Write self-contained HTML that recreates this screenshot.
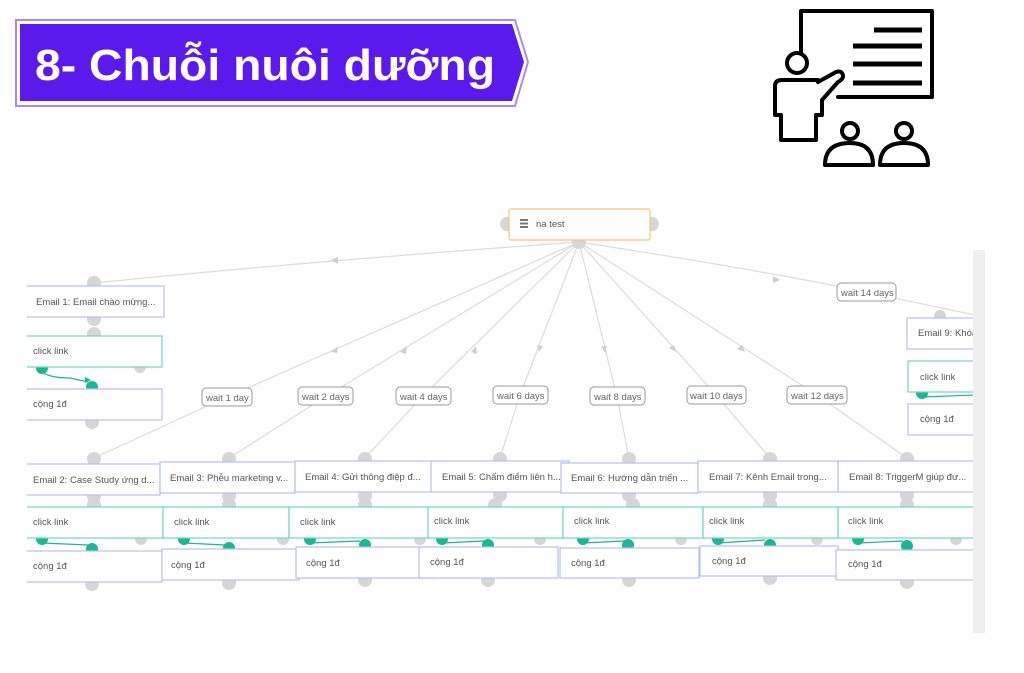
<!DOCTYPE html>
<html><head><meta charset="utf-8"><style>
body{margin:0;width:1024px;height:673px;background:#fff;overflow:hidden;font-family:"Liberation Sans","Noto Sans CJK SC",sans-serif}
svg{position:absolute;left:0;top:0}
</style></head><body>
<svg width="1024" height="673" viewBox="0 0 1024 673" font-family="Liberation Sans, Noto Sans CJK SC, sans-serif">
<!-- title banner -->
<polygon points="16,20 515,20 528,62 515,106 16,106" fill="none" stroke="#a88af5" stroke-width="2"/>
<polygon points="20,24 512,24 524,62 512,101 20,101" fill="#5b1aed"/>
<text x="35" y="80" fill="#fff" font-size="44" font-weight="bold" font-family="Liberation Sans, sans-serif" textLength="460" lengthAdjust="spacingAndGlyphs">8- Chuỗi nuôi dưỡng</text>
<!-- icon -->
<g fill="none" stroke="#000" stroke-width="4" stroke-linejoin="round" stroke-linecap="round">
<polyline points="801,52 801,11 932,11 932,97 838,97"/>
<circle cx="797" cy="63" r="10"/>
<path d="M818,82 L836,72 Q843,70 843,77 Q842,80 838,82 L822,100 L822,115 L816,115 L816,140 L781,140 L781,115 L775,115 L775,86 Q775,80 782,80 L818,80"/>
<circle cx="850" cy="131" r="8"/>
<path d="M825,165 Q825,143 850,143 Q873,143 873,165 Z"/>
<circle cx="904" cy="131" r="8"/>
<path d="M880,165 Q880,143 904,143 Q928,143 928,165 Z"/>
</g>
<g stroke="#000" stroke-width="5">
<line x1="874" y1="30" x2="922" y2="30"/><line x1="853" y1="46" x2="922" y2="46"/>
<line x1="853" y1="64" x2="922" y2="64"/><line x1="853" y1="83" x2="922" y2="83"/>
</g>
<!-- scrollbar -->
<rect x="973" y="250" width="12" height="383" fill="#efefef"/>
<defs><clipPath id="c"><rect x="27" y="190" width="946" height="420"/></clipPath></defs>
<g clip-path="url(#c)">
<!-- edges -->
<g fill="none" stroke="#dcdcdc" stroke-width="1.2">
<path d="M579,242 Q300,262 94,283"/>
<path d="M579,242 L227,397 L94,458"/>
<path d="M579,242 L325,397 L229,458"/>
<path d="M579,242 L423,396 L365,458"/>
<path d="M579,242 L520,395 L500,458"/>
<path d="M579,242 L617,397 L629,458"/>
<path d="M579,242 L716,395 L770,458"/>
<path d="M579,242 L817,395 L907,458"/>
<path d="M579,242 Q760,270 866,292 L975,315"/>
</g>
<g fill="#cfcfcf">
<polygon points="331,260 338,257 338,264"/><polygon points="331,352 338,346 337,353"/>
<polygon points="400,352 407,346 406,354"/><polygon points="471,352 476,346 477,354"/>
<polygon points="539,352 537,345 543,346"/><polygon points="605,353 601,346 607,346"/>
<polygon points="676,352 669,348 674,345"/><polygon points="745,352 737,349 742,345"/>
<polygon points="780,280 773,276 773,283"/>
</g>
<!-- wait labels -->
<g font-size="9.5" fill="#666">
<g fill="#fff" stroke="#999" stroke-width="1">
<rect x="202" y="388" width="50" height="18" rx="4"/><rect x="298" y="387" width="55" height="18" rx="4"/>
<rect x="396" y="387" width="55" height="18" rx="4"/><rect x="493" y="386" width="55" height="18" rx="4"/>
<rect x="590" y="387" width="55" height="18" rx="4"/><rect x="687" y="386" width="59" height="18" rx="4"/>
<rect x="787" y="386" width="60" height="18" rx="4"/><rect x="837" y="283" width="59" height="18" rx="4"/>
</g>
<text x="206" y="401">wait 1 day</text><text x="302" y="400">wait 2 days</text>
<text x="400" y="400">wait 4 days</text><text x="497" y="399">wait 6 days</text>
<text x="594" y="400">wait 8 days</text><text x="690" y="399">wait 10 days</text>
<text x="791" y="399">wait 12 days</text><text x="841" y="296">wait 14 days</text>
</g>
<!-- root -->
<circle cx="507" cy="224" r="7" fill="#d6d6d6"/><circle cx="652" cy="224" r="7" fill="#d6d6d6"/>
<circle cx="579" cy="242" r="7" fill="#d6d6d6"/>
<rect x="509" y="209" width="141" height="31" fill="#fff" stroke="#f7c56e" stroke-width="1.2" rx="2"/>
<g fill="#777"><rect x="520" y="219" width="8" height="2"/><rect x="520" y="222.5" width="8" height="2"/><rect x="520" y="226" width="8" height="2"/></g>
<text x="536" y="227" font-size="9.5" fill="#555">na test</text>

<g font-size="9.5" fill="#555">
<g fill="#d6d6d6">
<circle cx="94" cy="283" r="7"/><circle cx="94" cy="319" r="7"/><circle cx="94" cy="334" r="7"/><circle cx="140" cy="367" r="6"/><circle cx="92" cy="422" r="7"/>
<circle cx="940" cy="316" r="6"/>
<circle cx="94" cy="459" r="7"/><circle cx="229" cy="459" r="7"/><circle cx="365" cy="459" r="7"/><circle cx="500" cy="459" r="7"/><circle cx="629" cy="459" r="7"/><circle cx="770" cy="459" r="7"/><circle cx="907" cy="459" r="7"/>
<circle cx="94" cy="496" r="7"/><circle cx="94" cy="505" r="7"/><circle cx="229" cy="496" r="7"/><circle cx="229" cy="505" r="7"/><circle cx="365" cy="496" r="7"/><circle cx="365" cy="505" r="7"/><circle cx="500" cy="495" r="7"/><circle cx="495" cy="505" r="7"/><circle cx="629" cy="495" r="7"/><circle cx="633" cy="505" r="7"/><circle cx="770" cy="495" r="7"/><circle cx="770" cy="505" r="7"/><circle cx="907" cy="495" r="7"/><circle cx="907" cy="505" r="7"/>
<circle cx="141" cy="539" r="6"/><circle cx="283" cy="539" r="6"/><circle cx="420" cy="539" r="6"/><circle cx="540" cy="539" r="6"/><circle cx="681" cy="539" r="6"/><circle cx="817" cy="539" r="6"/><circle cx="956" cy="539" r="6"/>
<circle cx="92" cy="584" r="7"/><circle cx="229" cy="583" r="7"/><circle cx="365" cy="580" r="7"/><circle cx="488" cy="580" r="7"/><circle cx="629" cy="580" r="7"/><circle cx="770" cy="578" r="7"/><circle cx="907" cy="582" r="7"/>
</g>
<g fill="#17b894">
<circle cx="42" cy="368" r="6"/><circle cx="92" cy="387" r="6"/>
<circle cx="922" cy="393" r="6"/>
<circle cx="42" cy="539" r="6"/><circle cx="92" cy="549" r="6"/>
<circle cx="184" cy="539" r="6"/><circle cx="229" cy="548" r="6"/>
<circle cx="310" cy="539" r="6"/><circle cx="365" cy="545" r="6"/>
<circle cx="442" cy="539" r="6"/><circle cx="488" cy="545" r="6"/>
<circle cx="583" cy="539" r="6"/><circle cx="628" cy="545" r="6"/>
<circle cx="718" cy="539" r="6"/><circle cx="770" cy="545" r="6"/>
<circle cx="858" cy="539" r="6"/><circle cx="907" cy="546" r="6"/>
</g>
<g fill="none" stroke="#17b894" stroke-width="1.2">
<path d="M42,372 Q50,378 70,378 L88,382"/><path d="M922,397 L975,395"/>
<path d="M42,543 L88,545"/><path d="M184,543 L225,545"/><path d="M310,543 L360,541"/>
<path d="M442,543 L484,541"/><path d="M583,543 L624,541"/><path d="M718,543 L765,540"/><path d="M858,543 L903,541"/>
</g>
<g fill="#fff" stroke-width="1.2">
<g stroke="#b8bdf5">
<rect x="20" y="286" width="144" height="31"/>
<rect x="20" y="389" width="142" height="31"/>
<rect x="907" y="318" width="80" height="31"/><rect x="908" y="404" width="80" height="31"/>
<rect x="20" y="464" width="140" height="31"/><rect x="160" y="462" width="135" height="31"/>
<rect x="295" y="461" width="137" height="31"/><rect x="431" y="461" width="138" height="31"/>
<rect x="561" y="463" width="137" height="30"/><rect x="698" y="461" width="140" height="31"/>
<rect x="838" y="461" width="150" height="31"/>
<rect x="20" y="551" width="142" height="31"/><rect x="162" y="549" width="137" height="31"/>
<rect x="296" y="547" width="139" height="31"/><rect x="419" y="547" width="139" height="31"/>
<rect x="560" y="548" width="139" height="30"/><rect x="700" y="546" width="138" height="30"/>
<rect x="836" y="550" width="150" height="30"/>
</g>
<g stroke="#6fd8bf">
<rect x="20" y="336" width="142" height="31"/><rect x="908" y="361" width="80" height="31"/>
<rect x="20" y="507" width="143" height="31"/><rect x="163" y="507" width="126" height="31"/>
<rect x="289" y="507" width="141" height="31"/><rect x="428" y="507" width="135" height="31"/>
<rect x="563" y="507" width="140" height="31"/><rect x="703" y="507" width="135" height="31"/>
<rect x="838" y="507" width="150" height="31"/>
</g>
</g>
<polygon points="85,377 91,380 85,383" fill="#17b894"/>
<text x="36" y="305">Email 1: Email chào mừng...</text>
<text x="33" y="354">click link</text><text x="33" y="407">cộng 1đ</text>
<text x="918" y="336">Email 9: Khóa</text><text x="920" y="380">click link</text><text x="920" y="422">cộng 1đ</text>
<text x="33" y="483">Email 2: Case Study ứng d...</text>
<text x="170" y="481">Email 3: Phễu marketing v...</text>
<text x="305" y="480">Email 4: Gửi thông điệp đ...</text>
<text x="442" y="480">Email 5: Chấm điểm liên h...</text>
<text x="571" y="481">Email 6: Hướng dẫn triển ...</text>
<text x="709" y="480">Email 7: Kênh Email trong...</text>
<text x="849" y="480">Email 8: TriggerM giúp đư...</text>
<text x="33" y="525">click link</text><text x="174" y="525">click link</text><text x="300" y="525">click link</text>
<text x="434" y="524">click link</text><text x="574" y="524">click link</text><text x="709" y="524">click link</text><text x="848" y="524">click link</text>
<text x="33" y="569">cộng 1đ</text><text x="171" y="568">cộng 1đ</text><text x="306" y="566">cộng 1đ</text>
<text x="430" y="565">cộng 1đ</text><text x="571" y="566">cộng 1đ</text><text x="712" y="564">cộng 1đ</text><text x="848" y="567">cộng 1đ</text>
</g>
</g>
</svg>
</body></html>
